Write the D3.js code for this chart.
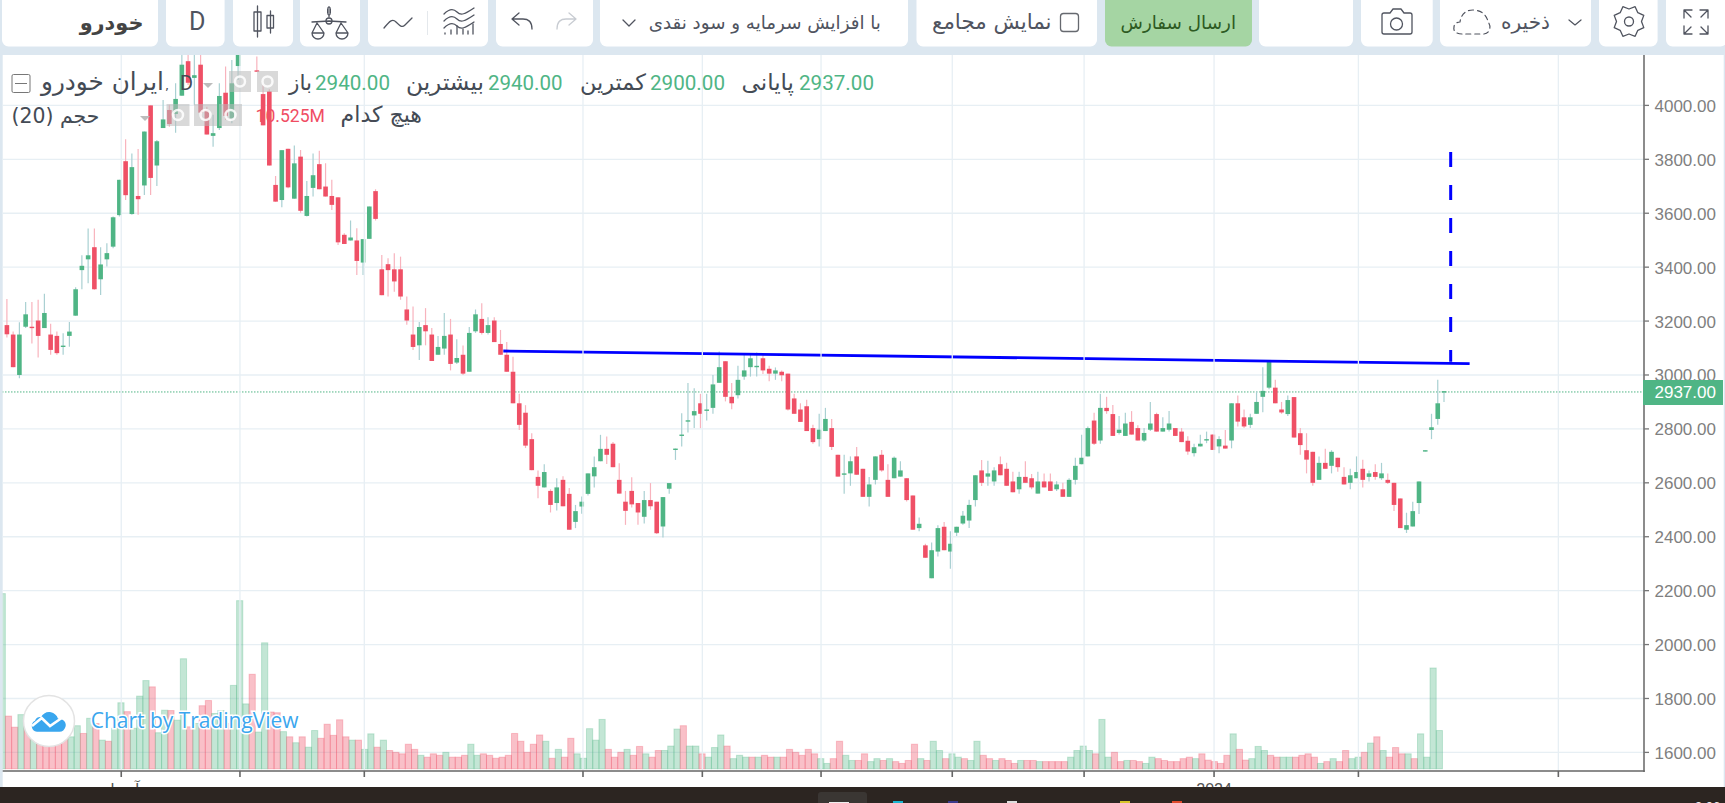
<!DOCTYPE html>
<html><head><meta charset="utf-8">
<script src="https://cdn.jsdelivr.net/npm/d3@7/dist/d3.min.js"></script>
<style>html,body{margin:0;padding:0;background:#dce7f0;overflow:hidden}svg{display:block}</style>
</head><body><svg id="c" width="1725" height="803"></svg>
<script>
// ---- data ----
const opens=[3185,3150,3000,3179,3179,3202,3174,3150,3145,3104,3145,3220,3389,3429,3474,3355,3429,3476,3593,3793,3597,3664,3703,4000,3777,3916,3983,3968,4036,4164,4102,4151,3983,3887,3916,4047,3951,4146,4290,4260,4130,4042,4052,3705,3649,3839,3654,3810,3590,3694,3782,3699,3664,3659,3520,3499,3499,3417,3505,3682,
3392,3411,3392,3392,3243,3150,3110,3185,3150,3075,3098,3150,3046,3075,3012,3162,3208,3156,3202,3115,3075,3012,2895,2860,2762,2622,2583,2570,2525,2611,2559,2455,2512,2559,2624,2680,
2726,2745,2611,2530,2570,2525,2474,2536,2530,2438,2578,2722,2774,2827,2850,2895,2867,2878,2971,3051,2919,2925,2994,3029,3029,3062,3023,3005,3012,3005,2913,2872,2884,2803,2762,2792,2803,2704,2630,2635,2698,2652,2548,2611,2704,2611,2617,2623,2617,2553,2432,2368,2246,2345,2437,2345,2415,2449,2460,2536,2646,2623,2605,2669,2652,2605,2576,2622,2617,2560,2605,2605,2576,2576,2548,2611,2669,2698,2831,2757,2878,2855,2785,2774,2826,2803,2757,2797,2855,2790,2797,2803,2790,2756,2710,2735,
2757,2779,2735,2738,2757,2895,2843,2815,2856,2919,2953,2953,2872,2855,2918,2784,2721,2715,2611,2674,2663,2693,2622,2600,2617,2652,2622,2640,2617,2611,2600,2542,2426,2438,2525,2716,2796,2837,2940];
const highs=[3282,3161,3196,3271,3271,3279,3301,3190,3161,3155,3197,3325,3444,3543,3543,3474,3489,3588,3724,3874,3822,3838,3903,4000,3872,4020,4002,4082,4187,4187,4187,4187,3995,3965,4082,4144,4168,4300,4320,4300,4181,4076,4060,3738,3834,3839,3851,3835,3720,3822,3832,3785,3724,3659,3526,3573,3544,3504,3625,3689,
3445,3433,3452,3439,3291,3254,3197,3248,3174,3145,3230,3208,3133,3109,3178,3243,3266,3214,3214,3167,3122,3068,2930,2888,2784,2646,2669,2576,2617,2624,2581,2518,2549,2635,2698,2778,
2772,2751,2673,2570,2621,2525,2570,2599,2530,2547,2599,2727,2858,2970,2951,2930,2930,3000,3087,3051,2970,3034,3081,3081,3083,3081,3034,3028,3017,3005,2930,2895,2908,2815,2856,2878,2837,2704,2704,2698,2733,2652,2622,2698,2722,2669,2698,2680,2617,2553,2471,2374,2379,2443,2455,2420,2437,2495,2537,2628,2685,2682,2658,2698,2674,2641,2641,2680,2633,2641,2635,2635,2606,2600,2617,2693,2778,2809,2860,2930,2919,2889,2848,2860,2866,2814,2803,2900,2860,2843,2866,2803,2803,2773,2745,2778,
2790,2779,2773,2796,2895,2924,2872,2856,2939,3029,3051,2982,2900,2924,2918,2803,2784,2715,2698,2726,2721,2693,2658,2652,2698,2686,2646,2669,2674,2635,2600,2542,2489,2530,2605,2721,2856,2982,2940];
const lows=[3139,3029,2988,3174,3117,3065,3174,3075,3075,3075,3105,3220,3318,3340,3316,3297,3402,3470,3588,3649,3594,3594,3668,3668,3701,3916,3921,3899,4036,4076,4002,3958,3892,3847,3909,3946,3934,4094,4210,4200,4125,3926,3777,3643,3622,3693,3654,3602,3588,3662,3689,3662,3612,3482,3486,3499,3371,3371,3505,3573,
3296,3291,3309,3279,3186,3093,3056,3110,3052,3075,3075,3017,3041,3000,3012,3156,3150,3150,3122,3075,3012,2895,2796,2729,2647,2543,2583,2490,2497,2513,2426,2432,2485,2553,2583,2680,
2670,2658,2560,2444,2508,2444,2449,2500,2410,2397,2559,2685,2735,2787,2803,2803,2831,2856,2971,2902,2873,2913,2982,2994,2994,3004,2977,2982,2977,2868,2856,2826,2792,2745,2735,2792,2722,2623,2559,2589,2630,2548,2512,2594,2641,2548,2617,2623,2531,2426,2420,2322,2246,2327,2350,2281,2403,2444,2432,2512,2588,2589,2589,2628,2589,2565,2559,2600,2576,2560,2583,2570,2570,2548,2548,2594,2669,2698,2740,2745,2856,2774,2779,2774,2779,2757,2751,2792,2790,2790,2790,2774,2751,2704,2698,2735,
2747,2722,2710,2727,2728,2809,2803,2803,2856,2862,2947,2895,2856,2848,2768,2704,2635,2589,2611,2652,2635,2641,2594,2576,2617,2583,2605,2611,2611,2596,2495,2432,2414,2438,2484,2716,2762,2815,2900];
const closes=[3151,3029,3150,3225,3174,3145,3230,3093,3081,3109,3161,3318,3405,3444,3318,3410,3452,3585,3724,3667,3771,3652,3903,3731,3867,3948,3931,4024,4151,4084,4112,3973,3892,3897,4035,3961,4082,4250,4230,4215,4125,3926,3777,3643,3834,3696,3785,3609,3664,3741,3689,3662,3631,3492,3486,3510,3423,3504,3625,3579,
3296,3389,3347,3291,3202,3104,3178,3162,3052,3104,3145,3041,3063,3005,3156,3225,3156,3185,3122,3075,3012,2895,2815,2738,2647,2589,2640,2518,2583,2513,2426,2495,2530,2635,2658,2726,
2704,2658,2560,2496,2520,2490,2536,2513,2413,2547,2599,2727,2779,2832,2866,2856,2872,2965,3029,2919,2895,2982,3017,3062,3034,3017,3005,3017,2999,2872,2856,2826,2792,2751,2797,2837,2733,2623,2635,2680,2630,2548,2594,2698,2646,2548,2693,2646,2536,2426,2448,2322,2350,2432,2350,2374,2437,2478,2518,2628,2600,2635,2646,2628,2589,2565,2622,2600,2583,2605,2583,2570,2594,2548,2611,2663,2693,2803,2745,2878,2866,2774,2797,2820,2779,2757,2785,2820,2790,2803,2820,2774,2751,2716,2732,2745,
2762,2722,2762,2727,2895,2827,2809,2843,2900,2941,3051,2895,2861,2907,2768,2740,2686,2600,2674,2652,2715,2658,2594,2628,2640,2611,2635,2622,2635,2600,2518,2432,2443,2495,2605,2721,2806,2895,2937];
// volume in millions; first bar lies one slot left of the first candle
const volumes=[47.4,14.3,11.3,14.7,13,11,13,11,10,9,9,8.7,11.7,9.6,13.7,12.3,7.8,7.5,11,17.9,15.5,11,19.7,23.9,22.2,9.8,15.9,15.8,13.2,29.8,11.4,12.3,17.1,18.5,15,15.8,12.3,22.6,45.5,17.6,25.6,10,34.1,15.4,15.2,10.1,8.7,7.1,8.7,5.9,10.4,8.3,12.1,9.1,13.3,8.7,7.8,7.8,5.3,9.5,5.9,7.8,5,4.5,4.1,6.7,5.3,3.7,3.2,4.1,3.7,4.5,3.2,3.2,3.7,6.7,3.7,4.1,3.7,2.9,3.2,3.7,9.6,7.5,4.5,6.7,9.2,7.5,2.9,5.3,3.2,8.3,4.1,2.9,10.9,7.8,
13.4,5.3,3.2,4.5,5.3,3.7,6.1,4.1,3.2,5,5,6.2,10.8,11.7,6.2,6.2,4.1,3.2,5.8,9.2,6.2,2.8,3.7,3.2,3.2,3.2,3.7,3.2,3.2,3.2,5.3,4.5,3.7,5.3,4.1,2.8,1.5,2.8,7.5,3.7,2.3,2.3,4.1,2,2.8,2.3,2.8,2,1.5,2.3,6.7,2.8,2.3,7.5,5,2.8,4.1,3.2,2.8,2.3,7.5,3.7,2.8,2.3,2.8,2.3,1.5,2.3,2.3,2.3,2,2,2,2,2,3.2,5,6.2,5,4.1,13.4,3.2,4.5,2,2.3,2.3,2,1.5,3.2,2.8,2.3,2,2,2.8,3.2,2.8,
4.1,2.4,2,1.5,3.7,9.5,5.3,2.4,2.8,6.1,5,3.7,3.2,3.2,3.2,3.2,3.7,4.1,3.2,1.5,2,2.8,2,5,2.8,3.2,4.5,7,8.7,5,3.2,5.8,4.1,4.1,2.8,9.5,3.2,27.3,10.4];
const volumeSides=["GRRGRGRRRR","RGGRGRGRGG","RGGGRGGRGG","RGRRGGRGGG","RGGRRGRGRG","GRRRRRGRGG","RGRRRRRGRR","RGRRRGGRRR","RRRRRRRGRG","RRGGGG",
"GRRRGRRGRR","GGGRGGRGGG","RGGGRGRRGR","RRRRRGGRRG","GRRGGRGRRR","RGRGGRGGRG","GRRGRRRGRR","GRRRRGGGGR","GGRRGRRGGR","RRRRRG",
"RRRRRGRRGG","GRRGGRRRRG","RGRRGGRGRG","RRRGRGGGG"].join("");
const priceTicks=[4000,3800,3600,3400,3200,3000,2800,2600,2400,2200,2000,1800,1600];
const timeTicks=[18.3,37.3,57.2,92.2,111.3,130.3,151.3,172.4,193.2,216.3,248.3];
const timeLabels={18.3:"آوریل",193.2:"2024"};
const trendPrices=[3089,3042], trendSlots=[79.45,234.1];
const targetPrices=[3827,3049], targetSlot=231.07;
const lastPrice=2937;

const green="#4fb585", red="#ef5066", greenWick="#a9d0d2", redWick="#f8b3bd", grid="#e7eff4";
const svg=d3.select("#c");
const x=d3.scaleLinear().domain([0,230]).range([6.9,1444]);
const y=d3.scaleLinear().domain([1600,4000]).range([752.4,105.4]);
const vol=d3.scaleLinear().domain([0,10]).range([769,732]);
const volX=k=>x(k-1)+1.6;

svg.append("rect").attr("width",1725).attr("height",803).attr("fill","#dce7f0");
// plot panel
svg.append("rect").attr("x",2.7).attr("y",55).attr("width",1721).attr("height",732).attr("fill","#fff");
svg.append("clipPath").attr("id","pane").append("rect").attr("x",2.7).attr("y",55).attr("width",1641.5).attr("height",714.5);
const pane=svg.append("g").attr("clip-path","url(#pane)");

// grid
pane.selectAll(".gh").data(priceTicks).join("line").attr("x1",2).attr("x2",1644).attr("y1",d=>y(d)).attr("y2",d=>y(d)).attr("stroke",grid).attr("stroke-width",1.3);
svg.append("g").selectAll("line").data(timeTicks).join("line").attr("x1",d=>x(d)).attr("x2",d=>x(d)).attr("y1",55).attr("y2",771).attr("stroke",grid).attr("stroke-width",1.3);

// volume
pane.selectAll(".v").data(volumes).join("rect")
 .attr("x",(d,k)=>volX(k)-3.1).attr("width",6.2)
 .attr("y",d=>vol(d)).attr("height",d=>vol(0)-vol(d))
 .attr("fill",(d,k)=>volumeSides[k]==="G"?"rgba(79,181,133,.34)":"rgba(239,80,102,.36)")
 .attr("stroke",(d,k)=>volumeSides[k]==="G"?"rgba(79,181,133,.3)":"rgba(239,80,102,.3)").attr("stroke-width",1);

// last price line
pane.append("line").attr("x1",2).attr("x2",1644).attr("y1",y(lastPrice)).attr("y2",y(lastPrice)).attr("stroke",green).attr("stroke-width",1).attr("stroke-dasharray","1.5 1.5");

// candles
const idx=d3.range(opens.length);
const up=i=>closes[i]>=opens[i]|| i===230;
pane.selectAll(".w").data(idx).join("line").attr("x1",i=>x(i)).attr("x2",i=>x(i)).attr("y1",i=>y(highs[i])).attr("y2",i=>y(lows[i])).attr("stroke",i=>up(i)?greenWick:redWick).attr("stroke-width",1.2);
pane.selectAll(".b").data(idx).join("rect").attr("x",i=>x(i)-2.3).attr("width",4.6)
 .attr("y",i=>y(Math.max(opens[i],closes[i]))).attr("height",i=>Math.max(1.4,Math.abs(y(opens[i])-y(closes[i])))).attr("fill",i=>up(i)?green:red);

// trend line and target
pane.append("line").attr("x1",x(trendSlots[0])).attr("y1",y(trendPrices[0])).attr("x2",x(trendSlots[1])).attr("y2",y(trendPrices[1])).attr("stroke","#0000ff").attr("stroke-width",2.8);
pane.append("line").attr("x1",x(targetSlot)).attr("x2",x(targetSlot)).attr("y1",y(targetPrices[0])).attr("y2",y(targetPrices[1])).attr("stroke","#0000ff").attr("stroke-width",3).attr("stroke-dasharray","15 18");

// axes
const ax=svg.append("g").attr("transform","translate(1644,0)");
ax.append("line").attr("y1",55).attr("y2",772).attr("stroke","#666").attr("stroke-width",1.5);
ax.selectAll(".t").data(priceTicks).join("line").attr("x1",0).attr("x2",5).attr("y1",d=>y(d)).attr("y2",d=>y(d)).attr("stroke","#777").attr("stroke-width",1.3);
ax.selectAll(".l").data(priceTicks).join("text").attr("x",10.5).attr("y",d=>y(d)+6.5).text(d=>d3.format(".2f")(d))
 .attr("font-family","Liberation Sans").attr("font-size",17).attr("fill","#7f7f7f");
svg.append("line").attr("x1",2.7).attr("x2",1644.7).attr("y1",771).attr("y2",771).attr("stroke","#666").attr("stroke-width",1.5);
svg.selectAll(".tt").data(timeTicks).join("line").attr("x1",d=>x(d)).attr("x2",d=>x(d)).attr("y1",771).attr("y2",777).attr("stroke","#666").attr("stroke-width",1.6);
svg.selectAll(".tl").data(timeTicks.filter(d=>timeLabels[d])).join("text").attr("x",d=>x(d)).attr("y",795).attr("text-anchor","middle").text(d=>timeLabels[d]).attr("font-family",d=>d<100?"DejaVu Sans":"Liberation Sans").attr("font-size",16).attr("fill","#555");
// last price tag
svg.append("rect").attr("x",1643).attr("y",380).attr("width",80).attr("height",25).attr("fill",green);
svg.append("text").attr("x",1654.5).attr("y",y(lastPrice)+6.5).text(d3.format(".2f")(lastPrice)).attr("font-family","Liberation Sans").attr("font-size",17).attr("fill","#fff");

// helper: text fitted to a span
function fit(str,x0,x1,base,size,color,opts={}){
  const t=svg.append("text").attr("x",(x0+x1)/2).attr("y",base).attr("text-anchor","middle").text(str)
   .attr("font-family",opts.font||"DejaVu Sans").attr("font-size",size).attr("fill",color).attr("font-weight",opts.weight||400);
  if(opts.halo) t.attr("stroke","#fff").attr("stroke-width",opts.halo).attr("paint-order","stroke");
  const w=t.node().getComputedTextLength();
  t.attr("font-size",size*(x1-x0)/w);
  return t;
}
// legend overlay boxes
const boxes=[[229,71,22,21],[257,71,21,21],[166.5,104,23,22],[194,104,23,22],[219,104,23,22]];
svg.selectAll(".ob").data(boxes).join("rect").attr("x",d=>d[0]).attr("y",d=>d[1]).attr("width",d=>d[2]).attr("height",d=>d[3]).attr("fill","rgba(185,185,185,.55)");
svg.selectAll(".oc").data(boxes).join("circle").attr("cx",d=>d[0]+d[2]/2).attr("cy",d=>d[1]+d[3]/2).attr("r",5).attr("fill","none").attr("stroke","rgba(255,255,255,.85)").attr("stroke-width",2.5);
svg.selectAll(".tri").data([[203,83],[140,116]]).join("path").attr("d",d=>`M${d[0]},${d[1]}h10l-5,5z`).attr("fill","#bcbcbc");
// legend
const dark="#444b55", num="#4fb585";
svg.append("rect").attr("x",12).attr("y",74.5).attr("width",18).attr("height",18).attr("rx",1.5).attr("fill","none").attr("stroke","#777").attr("stroke-width",1);
svg.append("line").attr("x1",15).attr("x2",27).attr("y1",83.5).attr("y2",83.5).attr("stroke","#777");
fit("ایران خودرو",41,164,90,19,dark);
fit(",",165,169,90,19,dark);
fit("D",180,193,90,20,dark,{font:"Roboto"});
fit("باز",289,312,90,19,dark);
fit("2940.00",315,390,90,20,num,{font:"Roboto"});
fit("بیشترین",406,484,90,19,dark);
fit("2940.00",488,562.6,90,20,num,{font:"Roboto"});
fit("کمترین",580,646,90,19,dark);
fit("2900.00",650,725,90,20,num,{font:"Roboto"});
fit("پایانی",741.6,794,90,19,dark);
fit("2937.00",799,874,90,20,num,{font:"Roboto"});
fit("حجم (20)",11.5,99.5,123,17,dark);
fit("10.525M",255.6,325,122,18,"#f04d63",{font:"Roboto"});
fit("هیچ کدام",340.6,422,122,17,dark);

// watermark
const wm=svg.append("g");
wm.append("circle").attr("cx",49).attr("cy",721).attr("r",25.5).attr("fill","#fff").attr("stroke","#e3e3e3").attr("stroke-width",1.5);
wm.append("path").attr("d","M37,731.7c-6,0 -7,-9 -2,-11c1,-3 4,-4 6,-3.5c2,-4 6,-6 10,-5c3,.5 6,3 7,6.5c5,-.5 9,4 7.500,8c-1,3 -3,5 -6,5z").attr("fill","#39a6ee");
wm.append("path").attr("d","M32,726 L41.700,718 L50,726 L61.700,718").attr("fill","none").attr("stroke","#fff").attr("stroke-width",2.6);
fit("Chart by TradingView",90.7,298.5,728,20,"#3aa6ee",{font:"Open Sans",halo:3});

// toolbar
const btns=[[2,158],[166,224.6],[233,293],[300,360],[368,488],[496,593],[600,908],[916.5,1097],[1259,1353],[1361,1432.7],[1440,1591],[1599,1657.6],[1666,1727]];
svg.selectAll(".btn").data(btns).join("path").attr("d",d=>`M${d[0]},-4H${d[1]}V40a6.5,6.5 0 0 1 -6.5,6.5H${d[0]+6.5}a6.5,6.5 0 0 1 -6.5,-6.5Z`).attr("fill","#fff");
svg.append("path").attr("d","M1105,-4H1252V40a6.5,6.5 0 0 1 -6.5,6.5H1111.5a6.5,6.5 0 0 1 -6.5,-6.5Z").attr("fill","#a5d5a3");
fit("خودرو",79.6,143.5,30,22,"#444",{weight:700});
fit("D",189,205.5,30,22,"#50545f",{font:"Roboto"});
fit("با افزایش سرمایه و سود نقدی",648.6,881,29,16,"#50545f");
fit("نمایش مجامع",932,1051.6,29,16,"#50545f");
fit("ارسال سفارش",1120.5,1236,29,16,"#2d5a22");
fit("ذخیره",1501,1550,29,16,"#50545f");
const ic="#50545f";
const icon=(d,o={})=>svg.append("path").attr("d",d).attr("fill",o.fill||"none").attr("stroke",o.c||ic).attr("stroke-width",o.w||1.3).attr("stroke-linecap","round").attr("stroke-linejoin","round").attr("stroke-dasharray",o.dash||null);
// candle icon
icon("M257.500,6V37M254,12h7v19h-7zM270.500,11V33M267,15.500h6.500V28H267z");
// balance icon
icon("M329,7v10M329,21L312,22M329,21L346,22M317,23l-5,10a6,6 0 0 0 12,0zM341,23l-5,10a6,6 0 0 0 12,0zM312,33h12M336,33h12");
svg.append("circle").attr("cx",329).attr("cy",21).attr("r",3).attr("fill","none").attr("stroke",ic).attr("stroke-width",1.3);
svg.append("rect").attr("x",327.5).attr("y",7).attr("width",3).attr("height",8).attr("rx",1.5).attr("fill","none").attr("stroke",ic);
// line icon
icon("M384,28c5,-6 8,-10 12,-6s6,6 9,3l7,-7");
svg.append("line").attr("x1",427.5).attr("x2",427.5).attr("y1",11).attr("y2",35).attr("stroke","#e4e8ec");
// indicators
icon("M444,14c5,-5 9,-6 13,-2s8,2 17,-4M444,21c5,-5 9,-6 13,-2s8,2 17,-4M444,28c5,-5 9,-6 13,-2s8,2 17,-4");
icon("M445,34v-1M451,34v-4M457,34v-8M463,34v-5M468,34v-3M473,34v-10");
// undo redo
icon("M532,29c0,-8 -4,-10 -9,-10h-11M519,13l-7,6l7,6");
icon("M557,29c0,-8 4,-10 9,-10h10M569,13l7,6l-7,6",{c:"#c8ccd2"});
// chevrons
icon("M623,20l6,6l6,-6");
icon("M1569,20l6,5l6,-5",{w:1.2});
// checkbox
svg.append("rect").attr("x",1060.5).attr("y",13.5).attr("width",18).attr("height",18).attr("rx",3).attr("fill","none").attr("stroke","#66696f").attr("stroke-width",1.3);
// camera
icon("M1384,13h6l3,-4h8l3,4h6a2,2 0 0 1 2,2v17a2,2 0 0 1 -2,2h-26a2,2 0 0 1 -2,-2v-17a2,2 0 0 1 2,-2z");
svg.append("circle").attr("cx",1396.5).attr("cy",24).attr("r",6).attr("fill","none").attr("stroke",ic).attr("stroke-width",1.3);
// cloud dashed
icon("M1462,34c-6,0 -9,-3 -8,-7c0,-3 3,-5 6,-5c1,-7 5,-12 13,-12c8,0 14,5 15,12c3,3 3,11 -4,12z",{dash:"5 4",w:1.2});
// gear
const gear=d3.range(16).map(k=>{const r=k%2?16:12.5,a=k*Math.PI/8;return [1629+r*Math.cos(a),21.5+r*Math.sin(a)];});
svg.append("path").attr("d","M"+gear.join("L")+"Z").attr("fill","none").attr("stroke",ic).attr("stroke-width",1.3).attr("stroke-linejoin","round");
svg.append("circle").attr("cx",1629).attr("cy",21.5).attr("r",4.5).attr("fill","none").attr("stroke",ic).attr("stroke-width",1.3);
// fullscreen
icon("M1692,10h-8v8M1684,10l7,7M1700,10h8v8M1708,10l-7,7M1684,26v8h8M1684,34l7,-7M1708,26v8h-8M1708,34l-7,-7");

// bottom bar
svg.append("rect").attr("x",0).attr("y",787).attr("width",1725).attr("height",16).attr("fill","#2c2521");
svg.append("rect").attr("x",818).attr("y",792).attr("width",49).attr("height",14).attr("rx",3).attr("fill","#3a3633");
svg.append("rect").attr("x",829).attr("y",802).attr("width",20).attr("height",2).attr("fill","#eee");
svg.selectAll(".tb").data([[893,"#19b6d2"],[948,"#3b3a8c"],[1007,"#ddd"],[1120,"#d8c52a"],[1172,"#e04a2c"]]).join("rect").attr("x",d=>d[0]).attr("y",801).attr("width",10).attr("height",2).attr("fill",d=>d[1]);
svg.append("text").attr("x",1695).attr("y",811).text("9:06").attr("font-family","Liberation Sans").attr("font-size",13).attr("fill","#eee");
</script></body></html>
